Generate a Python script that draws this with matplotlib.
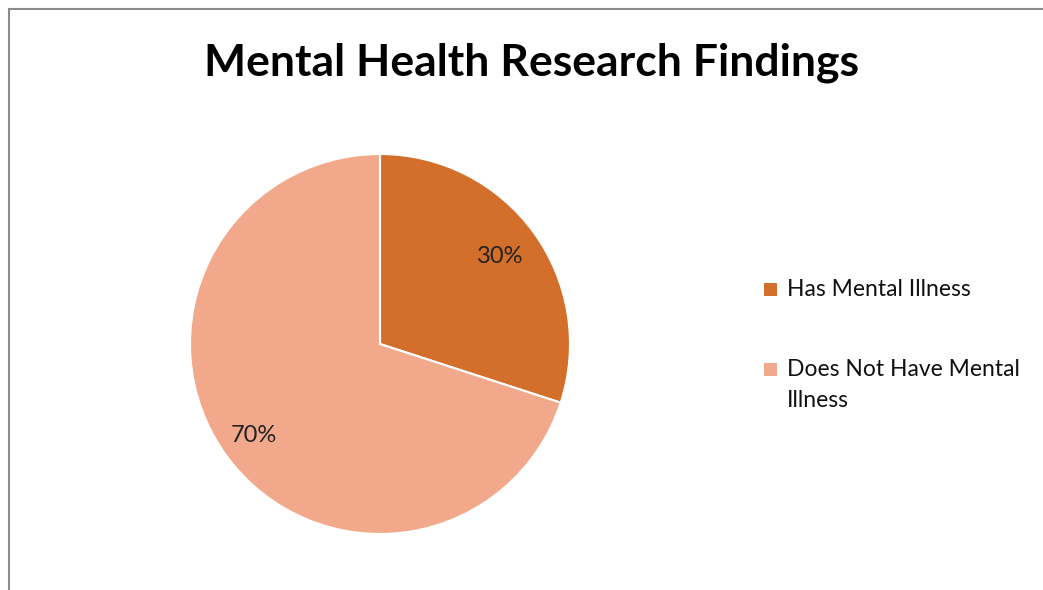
import matplotlib
matplotlib.use("Agg")
from matplotlib import pyplot as plt
from matplotlib.patches import Rectangle
from matplotlib.lines import Line2D
import numpy as np

plt.rcParams['font.family'] = ['Lato', 'DejaVu Sans']

labels = ["Has Mental Illness", "Does Not Have Mental\nIllness"]
values = [30, 70]
colors = ["#D46F2B", "#F2A98B"]
title = "Mental Health Research Findings"

W, H = 1043, 590
fig = plt.figure(figsize=(W / 100, H / 100), dpi=100)

# pie, centre ~ (380, 344) px, radius ~190 px
ax = fig.add_axes([190 / W, (H - 344 - 190) / H, 380 / W, 380 / H])
wedges, texts = ax.pie(values, colors=colors, startangle=90, counterclock=False,
                       wedgeprops=dict(edgecolor="white", linewidth=1.5))
ax.set_xlim(-1, 1)
ax.set_ylim(-1, 1)
ax.set_aspect("equal")
ax.axis("off")

# percentage labels
total = sum(values)
for w, v, d in zip(wedges, values, [0.78, 0.82]):
    ang = np.deg2rad((w.theta1 + w.theta2) / 2)
    ax.text(d * np.cos(ang), d * np.sin(ang), "%d%%" % round(100 * v / total),
            ha="center", va="center", fontsize=17, color="#222222")

fig.text(531 / W, (H - 63) / H, title, ha="center", va="center",
         fontsize=32, fontweight="bold", color="black")

# legend (square aligned with first text line)
ys = [289, 369]
for lab, c, y in zip(labels, colors, ys):
    fig.add_artist(Rectangle((764 / W, (H - y - 6.5) / H), 13 / W, 13 / H,
                             transform=fig.transFigure, facecolor=c, edgecolor="none"))
    nl = lab.count("\n")
    fig.text(787 / W, (H - y - nl * 16) / H, lab, ha="left", va="center",
             fontsize=16.5, color="#111111", linespacing=1.55)

# frame lines (top and left)
fig.add_artist(Line2D([8.5 / W, 1], [(H - 9) / H] * 2, transform=fig.transFigure,
                      color="#8c8c8c", linewidth=1.5))
fig.add_artist(Line2D([8.5 / W] * 2, [0, (H - 9) / H], transform=fig.transFigure,
                      color="#8c8c8c", linewidth=1.5))

fig.savefig("out.png", dpi=100)
